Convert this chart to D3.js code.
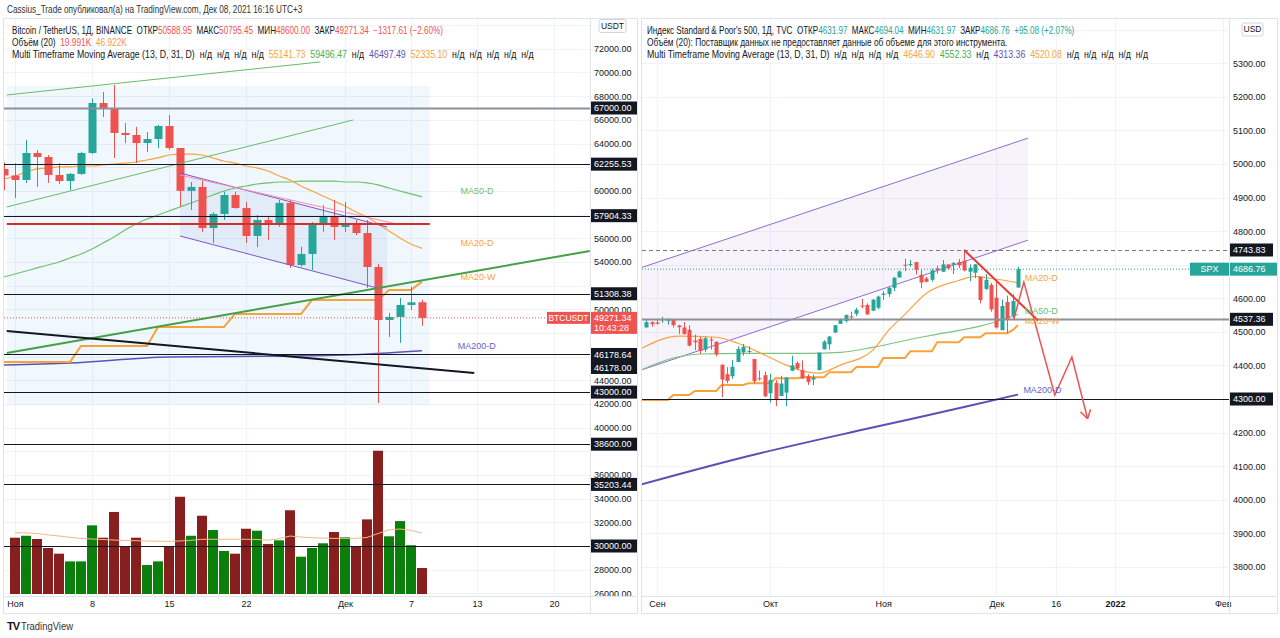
<!DOCTYPE html>
<html><head><meta charset="utf-8">
<script src="https://cdn.jsdelivr.net/npm/d3@7/dist/d3.min.js"></script>
<style>
html,body{margin:0;padding:0;background:#fff;}
svg{display:block;}
text{font-family:"Liberation Sans",Arial,sans-serif;}
</style></head>
<body><svg id="chart" width="1280" height="638"></svg>
<script>
// ================= DATA =================
// ---- BTC / USDT (daily) ----
const btcDates = ["2021-10-31","2021-11-01","2021-11-02","2021-11-03","2021-11-04","2021-11-05","2021-11-06","2021-11-07","2021-11-08","2021-11-09","2021-11-10","2021-11-11","2021-11-12","2021-11-13","2021-11-14","2021-11-15","2021-11-16","2021-11-17","2021-11-18","2021-11-19","2021-11-20","2021-11-21","2021-11-22","2021-11-23","2021-11-24","2021-11-25","2021-11-26","2021-11-27","2021-11-28","2021-11-29","2021-11-30","2021-12-01","2021-12-02","2021-12-03","2021-12-04","2021-12-05","2021-12-06","2021-12-07","2021-12-08"];
const btcOpen  = [61850,61300,60920,63200,62860,61340,60830,61430,63200,67420,66920,64890,64720,64040,64380,65480,63620,60000,60330,56860,58050,59650,58550,56190,57540,57120,58980,53740,54670,57200,57790,56950,57180,56440,53570,49090,49350,50360,50588.95];
const btcHigh  = [62400,62350,64300,63450,63030,62350,61500,63300,67800,68350,68950,65730,65400,64970,65550,66400,63620,60750,60900,58200,59930,59930,59060,57960,57820,59230,59230,55280,57370,58800,59230,59060,57540,57540,53820,49700,50950,51900,50795.45];
const btcLow   = [60050,59400,60660,60330,60670,60600,60070,61350,63100,66240,62780,64040,62350,63280,63600,63450,58640,58380,56530,55600,57540,58500,55600,55250,55850,56970,53490,53600,53320,56550,55850,56530,56270,51800,42080,47650,47150,49940,48600.00];
const btcClose = [61300,60920,63200,62860,61340,60830,61430,63200,67420,66920,64890,64720,64040,64380,65480,63620,60000,60330,56860,58050,59650,58550,56190,57540,57120,58980,53740,54670,57200,57790,56950,57180,56440,53570,49090,49350,50360,50588,49271.34];
const btcVol   = [null,43.3,44.8,42.3,35.4,31.0,25.1,25.1,52.8,43.3,63.1,36.7,43.3,22.3,25.1,36.7,74.8,44.8,60.2,49.2,33.1,31.0,50.2,48.7,38.5,41.3,64.4,28.7,35.4,39.0,47.7,43.6,36.7,57.4,110.2,44.4,56.1,37.5,19.991];
const btcVolMA = [null,47.1,47.0,46.5,45.5,44.6,43.6,42.8,42.3,41.9,41.5,41.2,41.0,40.8,40.6,40.5,40.8,41.3,42.1,42.1,42.1,42.1,42.1,41.9,41.5,42.5,44.6,43.8,43.3,43.0,42.8,42.8,42.8,43.5,46.5,49.3,50.0,49.0,46.922];
const btcMA20D = [61000,61260,61590,61850,61930,62020,62020,62100,62100,62190,62270,62350,62440,62610,62780,63030,63110,63110,63030,62780,62520,62350,62100,61930,61680,61260,60920,60410,59990,59570,59140,58720,58220,57790,57200,56610,56020,55510,55141.73];
const btcMA50D = [52720,52980,53230,53490,53740,53990,54330,54670,55090,55600,56100,56700,57200,57620,57960,58300,58640,58980,59310,59650,59990,60240,60410,60580,60670,60750,60750,60830,60830,60830,60830,60750,60750,60670,60500,60240,59990,59740,59496.47];
const btcMA20W = [45550,45550,45550,45550,45550,45550,45550,46900,46900,46900,46900,46900,46900,46900,48500,48500,48500,48500,48500,48500,48500,49600,49600,49600,49600,49600,49600,49600,50780,50780,50780,50780,50780,50780,50780,51630,51630,51630,52335.10];
const btcMA200Dates = ["2021-10-31","2021-11-06","2021-11-15","2021-11-26","2021-12-01","2021-12-08"];
const btcMA200Vals  = [45290,45460,45970,46050,46140,46497.49];
const btcLevels = [67000,62255.53,57904.33,51308.38,46178.64,46178.00,43000,38600,35203.44,30000];
const btcPriceTicks = [26000,28000,30000,32000,34000,36000,38000,40000,42000,44000,46000,48000,50000,52000,54000,56000,58000,60000,62000,64000,66000,68000,70000,72000,74000];
const btcTimeTicks = ["2021-11-01","2021-11-08","2021-11-15","2021-11-22","2021-12-01","2021-12-07","2021-12-13","2021-12-20"];
const btcTimeLabels = ["Ноя","8","15","22","Дек","7","13","20"];
const btcLast = 49271.34;
// BTC drawings (time, price)
const btcGreenTop   = [["2021-10-31T06:00",68100],["2021-11-28T18:00",70890]];
const btcGreenMid   = [["2021-10-31T06:00",58640],["2021-12-01T18:00",65990]];
const btcGreenThick = [["2021-10-31T06:00",46300],["2021-12-23T06:00",54920]];
const btcBlackLine  = [["2021-10-31T06:00",48160],["2021-12-12T18:00",44620]];
const btcChanTop    = [["2021-11-16T00:00",61510],["2021-12-04T20:00",56950]];
const btcChanBot    = [["2021-11-16T00:00",56190],["2021-12-03T22:00",51795]];
const btcChanBotEnd = [["2021-12-04T20:00",51545]];
const btcPinkLine   = [["2021-11-16T00:00",61340],["2021-12-05T17:00",57201]];
const btcRedLevel   = [["2021-10-31T06:00",57200],["2021-12-08T17:00",57200]];
const btcBlueBox    = [["2021-10-31T06:00",68860],["2021-12-08T17:00",41910]];
const btcLabelNames = ["MA50-D","MA20-D","MA20-W","MA200-D"];
const btcLabelTimes = ["2021-12-11T12:00","2021-12-11T12:00","2021-12-11T12:00","2021-12-11T06:00"];
const btcLabelVals  = [59990,55600,52720,46900];

// ---- S&P 500 (daily, trading days) ----
const spxDates = ["2021-08-30","2021-08-31","2021-09-01","2021-09-02","2021-09-03","2021-09-07","2021-09-08","2021-09-09","2021-09-10","2021-09-13","2021-09-14","2021-09-15","2021-09-16","2021-09-17","2021-09-20","2021-09-21","2021-09-22","2021-09-23","2021-09-24","2021-09-27","2021-09-28","2021-09-29","2021-09-30","2021-10-01","2021-10-04","2021-10-05","2021-10-06","2021-10-07","2021-10-08","2021-10-11","2021-10-12","2021-10-13","2021-10-14","2021-10-15","2021-10-18","2021-10-19","2021-10-20","2021-10-21","2021-10-22","2021-10-25","2021-10-26","2021-10-27","2021-10-28","2021-10-29","2021-11-01","2021-11-02","2021-11-03","2021-11-04","2021-11-05","2021-11-08","2021-11-09","2021-11-10","2021-11-11","2021-11-12","2021-11-15","2021-11-16","2021-11-17","2021-11-18","2021-11-19","2021-11-22","2021-11-23","2021-11-24","2021-11-26","2021-11-29","2021-11-30","2021-12-01","2021-12-02","2021-12-03","2021-12-06","2021-12-07"];
const spxOpen  = [4513,4529,4528,4534,4532,4536,4519,4513,4506,4474,4479,4447,4477,4470,4402,4374,4368,4410,4439,4442,4419,4362,4371,4317,4348,4309,4319,4384,4407,4386,4368,4358,4386,4448,4463,4498,4524,4532,4546,4554,4578,4580,4563,4572,4610,4613,4631,4662,4700,4702,4708,4670,4659,4655,4689,4679,4701,4700,4708,4712,4679,4676,4664,4628,4640,4602,4505,4589,4548,4631.97];
const spxHigh  = [4537,4531,4537,4545,4541,4536,4521,4529,4520,4492,4485,4486,4485,4472,4403,4395,4416,4457,4464,4457,4419,4385,4382,4375,4356,4369,4365,4429,4412,4415,4374,4372,4439,4475,4488,4520,4540,4552,4560,4572,4598,4585,4598,4608,4621,4636,4664,4683,4718,4714,4708,4685,4664,4688,4697,4714,4701,4708,4717,4744,4701,4702,4664,4672,4646,4652,4596,4608,4612,4694.04];
const spxLow   = [4513,4515,4522,4527,4521,4513,4493,4493,4457,4446,4435,4439,4447,4427,4306,4347,4360,4410,4429,4437,4346,4355,4306,4289,4279,4309,4278,4384,4386,4360,4342,4341,4386,4448,4447,4496,4524,4528,4538,4547,4570,4551,4562,4567,4595,4604,4621,4662,4681,4694,4671,4630,4648,4650,4673,4679,4685,4672,4690,4680,4651,4660,4585,4625,4560,4510,4505,4496,4540,4631.97];
const spxClose = [4529,4523,4524,4537,4535,4520,4514,4493,4459,4469,4443,4481,4474,4433,4358,4354,4396,4449,4455,4443,4353,4359,4308,4357,4300,4346,4364,4400,4391,4361,4351,4364,4438,4471,4486,4520,4536,4550,4545,4566,4575,4552,4596,4605,4614,4631,4661,4680,4698,4702,4685,4647,4649,4683,4683,4701,4689,4705,4698,4683,4691,4701,4595,4655,4567,4513,4577,4538,4592,4686.76];
const spxHolidays = ["2021-09-06","2021-11-25","2021-12-24","2022-01-17"];
const spxMA20DDates = ["2021-08-27","2021-09-08","2021-09-17","2021-09-23","2021-09-30","2021-10-06","2021-10-12","2021-10-14","2021-10-20","2021-10-28","2021-11-02","2021-11-05","2021-11-11","2021-11-19","2021-11-24","2021-11-30","2021-12-07"];
const spxMA20DVals  = [4450,4487,4484,4466,4431,4401,4380,4377,4401,4445,4505,4552,4615,4653,4665,4659,4646.90];
const spxMA50DDates = ["2021-08-27","2021-09-07","2021-09-14","2021-09-24","2021-10-12","2021-10-20","2021-10-28","2021-11-10","2021-11-16","2021-11-26","2021-12-01","2021-12-07"];
const spxMA50DVals  = [4386,4422,4434,4436,4436,4439,4454,4484,4496,4517,4531,4552.33];
const spxMA200DDates = ["2021-08-27","2021-09-27","2021-10-28","2021-11-22","2021-12-07"];
const spxMA200DVals  = [4045,4130,4215,4276,4313.36];
const spxMA20WDates = ["2021-08-23","2021-08-30","2021-09-07","2021-09-13","2021-09-20","2021-09-27","2021-10-04","2021-10-11","2021-10-18","2021-10-25","2021-11-01","2021-11-08","2021-11-15","2021-11-22","2021-11-29","2021-12-06","2021-12-07"];
const spxMA20WVals  = [4297,4297,4312,4324,4342,4347,4362,4365,4380,4395,4422,4442,4469,4484,4496,4505,4520.08];
const spxLevels = [4743.83,4537.36,4300.00];
const spxPriceTicks = [3800,3900,4000,4100,4200,4300,4400,4500,4600,4700,4800,4900,5000,5100,5200,5300,5400];
const spxTimeTicks = ["2021-09-01","2021-10-01","2021-11-01","2021-12-01","2021-12-16","2022-01-03","2022-02-01"];
const spxTimeLabels = ["Сен","Окт","Ноя","Дек","16","2022","Фев"];
const spxLast = 4686.76;
const spxChanUpper = [["2021-08-27T05:00",4692],["2021-12-08T20:00",5077]];
const spxChanLower = [["2021-08-27T05:00",4387],["2021-12-08T20:00",4773]];
const spxTrend     = [["2021-11-22T00:00",4744],["2021-12-10T17:00",4534]];
const spxForecast  = [["2021-12-06T05:00",4537],["2021-12-08T02:00",4648],["2021-12-15T20:00",4312],["2021-12-21T00:00",4425],["2021-12-23T22:00",4241]];
const spxLabelNames = ["MA20-D","MA50-D","MA20-W","MA200-D"];
const spxLabelTimes = ["2021-12-08T06:00","2021-12-08T06:00","2021-12-08T06:00","2021-12-08T00:00"];
const spxLabelVals  = [4662,4564,4534,4327];

// ================= DRAWING =================
const svg = d3.select("#chart");
svg.append("rect").attr("width",1280).attr("height",638).attr("fill","#fff");
const INK="#131722", RED="#ef5350", TEAL="#26a69a", ORANGE="#f7a440", GREEN="#6cc070", PURPLE="#5e52b8", GRID="#f0f3fa";

const pU = s => { const d=s.slice(0,10); let ms=Date.parse(d+"T00:00:00Z"); if(s.length>10){const [h,m]=s.slice(11).split(":").map(Number); ms+=(h*60+m)*60000;} return new Date(ms); };

const defs = svg.append("defs");
defs.append("clipPath").attr("id","clipL").append("rect").attr("x",4).attr("y",19).attr("width",586).attr("height",577);
defs.append("clipPath").attr("id","clipR").append("rect").attr("x",642).attr("y",19).attr("width",587).attr("height",577);

// ---------- LEFT: BTC ----------
const xB = d3.scaleUtc().domain([pU("2021-11-01"),pU("2021-12-20")]).range([15,554]);
const yB = d3.scaleLinear().domain([30000,67000]).range([546,108]);
const yVol = d3.scaleLinear().domain([0,100]).range([594,464]);
const bx = s => xB(pU(s));
const gL = svg.append("g").attr("clip-path","url(#clipL)");

gL.selectAll(".hg").data(btcPriceTicks).join("line").attr("x1",4).attr("x2",590)
  .attr("y1",d=>Math.round(yB(d))+0.5).attr("y2",d=>Math.round(yB(d))+0.5).attr("stroke",GRID);
gL.selectAll(".vg").data(btcTimeTicks).join("line").attr("y1",19).attr("y2",596)
  .attr("x1",d=>Math.round(bx(d))+0.5).attr("x2",d=>Math.round(bx(d))+0.5).attr("stroke",GRID);

const btcIdx = btcDates.map((d,i)=>i);
gL.selectAll(".vol").data(btcIdx.filter(i=>btcVol[i]!=null)).join("rect")
  .attr("x",i=>bx(btcDates[i])-5).attr("width",10)
  .attr("y",i=>yVol(btcVol[i])).attr("height",i=>yVol(0)-yVol(btcVol[i]))
  .attr("fill",i=>btcClose[i]>=btcOpen[i]?"#0b7f0b":"#881f1f");
gL.append("path").datum(btcIdx).attr("fill","none").attr("stroke","#f5b68a").attr("stroke-width",1)
  .attr("d",d3.line().defined(i=>btcVolMA[i]!=null).x(i=>bx(btcDates[i])).y(i=>yVol(btcVolMA[i])));

gL.append("rect").attr("x",bx(btcBlueBox[0][0])).attr("y",yB(btcBlueBox[0][1]))
  .attr("width",bx(btcBlueBox[1][0])-bx(btcBlueBox[0][0])).attr("height",yB(btcBlueBox[1][1])-yB(btcBlueBox[0][1]))
  .attr("fill","#2196f3").attr("opacity",0.065);
const chanPoly = [btcChanTop[0],btcChanTop[1],btcChanBotEnd[0],btcChanBot[0]];
gL.append("polygon").attr("points",chanPoly.map(p=>bx(p[0])+","+yB(p[1])).join(" ")).attr("fill","#5c6bc0").attr("opacity",0.09);

const lineB = () => d3.line().x((d,i)=>bx(btcDates[i])).y(d=>yB(d));
gL.append("path").datum(btcMA200Vals).attr("fill","none").attr("stroke",PURPLE).attr("stroke-width",1.5)
  .attr("d",d3.line().x((d,i)=>bx(btcMA200Dates[i])).y(d=>yB(d)).curve(d3.curveMonotoneX));
gL.append("path").datum(btcMA50D).attr("fill","none").attr("stroke",GREEN).attr("stroke-width",1.2).attr("d",lineB().curve(d3.curveMonotoneX));
gL.append("path").datum(btcMA20D).attr("fill","none").attr("stroke",ORANGE).attr("stroke-width",1.2).attr("d",lineB().curve(d3.curveMonotoneX));
gL.append("path").datum(btcMA20W).attr("fill","none").attr("stroke","#f6a33a").attr("stroke-width",2).attr("d",lineB());

function drawCandles(g, dates, O, H, L, C, xf, yf, bw){
  const idx = dates.map((d,i)=>i);
  g.selectAll(null).data(idx).join("line")
    .attr("x1",i=>Math.round(xf(dates[i]))+0.5).attr("x2",i=>Math.round(xf(dates[i]))+0.5)
    .attr("y1",i=>yf(H[i])).attr("y2",i=>yf(L[i]))
    .attr("stroke",i=>C[i]>=O[i]?TEAL:RED).attr("stroke-width",1);
  g.selectAll(null).data(idx).join("rect")
    .attr("x",i=>Math.round(xf(dates[i]))+0.5-bw/2).attr("width",bw)
    .attr("y",i=>yf(Math.max(O[i],C[i])))
    .attr("height",i=>Math.max(1,yf(Math.min(O[i],C[i]))-yf(Math.max(O[i],C[i]))))
    .attr("fill",i=>C[i]>=O[i]?TEAL:RED);
}
drawCandles(gL, btcDates, btcOpen, btcHigh, btcLow, btcClose, bx, yB, 8);

function seg(g, pts, xf, yf, color, w, dash){
  const p = g.append("path").datum(pts).attr("fill","none").attr("stroke",color).attr("stroke-width",w)
    .attr("d",d3.line().x(d=>xf(d[0])).y(d=>yf(d[1])));
  if(dash) p.attr("stroke-dasharray",dash);
  return p;
}
seg(gL, btcGreenTop, bx, yB, "#66bb6a", 1);
seg(gL, btcGreenMid, bx, yB, "#66bb6a", 1);
seg(gL, btcGreenThick, bx, yB, "#43a047", 2);
seg(gL, btcBlackLine, bx, yB, INK, 2);
seg(gL, btcChanTop, bx, yB, "#7e57c2", 1);
seg(gL, btcChanBot, bx, yB, "#7e57c2", 1);
seg(gL, btcPinkLine, bx, yB, "#f48fb1", 1);
seg(gL, btcRedLevel, bx, yB, "#d32f2f", 2);

btcLevels.forEach(v=>{
  const y = Math.round(yB(v))+0.5;
  gL.append("line").attr("x1",4).attr("x2",590).attr("y1",y).attr("y2",y)
    .attr("stroke",v===67000?"#8d9099":INK).attr("stroke-width",v===67000?2:1);
});
gL.append("line").attr("x1",4).attr("x2",590).attr("y1",yB(btcLast)).attr("y2",yB(btcLast))
  .attr("stroke",RED).attr("stroke-width",1).attr("stroke-dasharray","1,2");

const lblColor = {"MA50-D":GREEN,"MA20-D":ORANGE,"MA20-W":ORANGE,"MA200-D":"#6a5fc1"};
btcLabelNames.forEach((n,i)=>{
  gL.append("text").attr("x",bx(btcLabelTimes[i])).attr("y",yB(btcLabelVals[i])).attr("dy","0.35em")
    .attr("font-size",9).attr("fill",lblColor[n]).text(n);
});

// ---------- RIGHT: SPX ----------
const cal=[];
for(let t=Date.parse("2021-08-02T00:00:00Z"); t<=Date.parse("2022-02-28T00:00:00Z"); t+=86400000){
  const d=new Date(t), wd=d.getUTCDay(), s=d.toISOString().slice(0,10);
  if(wd>0 && wd<6 && !spxHolidays.includes(s)) cal.push(s);
}
const calIdx = new Map(cal.map((s,i)=>[s,i]));
const base = calIdx.get("2021-09-01");
const tpos = s => { let f=0; if(s.length>10){const [h,m]=s.slice(11).split(":").map(Number); f=(h+m/60)/24;} return calIdx.get(s.slice(0,10))-base+f; };
const xS = d3.scaleLinear().domain([tpos("2021-09-01"),tpos("2021-12-07")]).range([657,1018]);
const sx = s => xS(tpos(s));
const yS = d3.scaleLinear().domain([4300,4743.83]).range([399,250]);
const gR = svg.append("g").attr("clip-path","url(#clipR)");

gR.selectAll(".hg").data(spxPriceTicks).join("line").attr("x1",642).attr("x2",1229)
  .attr("y1",d=>Math.round(yS(d))+0.5).attr("y2",d=>Math.round(yS(d))+0.5).attr("stroke",GRID);
gR.selectAll(".vg").data(spxTimeTicks).join("line").attr("y1",19).attr("y2",596)
  .attr("x1",d=>Math.round(sx(d))+0.5).attr("x2",d=>Math.round(sx(d))+0.5).attr("stroke",GRID);

const chan = [spxChanUpper[0],spxChanUpper[1],spxChanLower[1],spxChanLower[0]];
gR.append("polygon").attr("points",chan.map(p=>sx(p[0])+","+yS(p[1])).join(" ")).attr("fill","#7e57c2").attr("opacity",0.07);
seg(gR, spxChanUpper, sx, yS, "#8e6cd0", 1);
seg(gR, spxChanLower, sx, yS, "#8e6cd0", 1);

gR.append("path").datum(spxMA200DVals).attr("fill","none").attr("stroke","#5b4fb5").attr("stroke-width",2)
  .attr("d",d3.line().x((d,i)=>sx(spxMA200DDates[i])).y(d=>yS(d)).curve(d3.curveMonotoneX));
gR.append("path").datum(spxMA50DVals).attr("fill","none").attr("stroke","#7cc47f").attr("stroke-width",1.2)
  .attr("d",d3.line().x((d,i)=>sx(spxMA50DDates[i])).y(d=>yS(d)).curve(d3.curveMonotoneX));
gR.append("path").datum(spxMA20DVals).attr("fill","none").attr("stroke",ORANGE).attr("stroke-width",1.2)
  .attr("d",d3.line().x((d,i)=>sx(spxMA20DDates[i])).y(d=>yS(d)).curve(d3.curveMonotoneX));
const wkDays = cal.filter(s=>s>="2021-08-27" && s<="2021-12-07");
const wkVal = s => { let v=null; spxMA20WDates.forEach((d,i)=>{ if(d<=s) v=spxMA20WVals[i]; }); return v; };
gR.append("path").datum(wkDays).attr("fill","none").attr("stroke","#f6a33a").attr("stroke-width",2)
  .attr("d",d3.line().x(s=>sx(s)).y(s=>yS(wkVal(s))));

drawCandles(gR, spxDates, spxOpen, spxHigh, spxLow, spxClose, sx, yS, 4);

spxLevels.forEach((v,i)=>{
  const y = Math.round(yS(v))+0.5;
  const l = gR.append("line").attr("x1",642).attr("x2",1229).attr("y1",y).attr("y2",y);
  if(i===0) l.attr("stroke","#787b86").attr("stroke-width",1).attr("stroke-dasharray","4,3");
  else if(i===1) l.attr("stroke","#8d9099").attr("stroke-width",2);
  else l.attr("stroke",INK).attr("stroke-width",1);
});
gR.append("line").attr("x1",642).attr("x2",1229).attr("y1",yS(spxLast)).attr("y2",yS(spxLast))
  .attr("stroke",TEAL).attr("stroke-width",1).attr("stroke-dasharray","1,2");

seg(gR, spxTrend, sx, yS, "#e53935", 2);
seg(gR, spxForecast, sx, yS, "#ef5350", 1.5);
{
  const n=spxForecast.length, a=spxForecast[n-2], b=spxForecast[n-1];
  const x1=sx(a[0]), y1=yS(a[1]), x2=sx(b[0]), y2=yS(b[1]);
  const ang=Math.atan2(y2-y1,x2-x1), L=10;
  [Math.PI-0.55, Math.PI+0.55].forEach(o=>{
    gR.append("line").attr("x1",x2).attr("y1",y2).attr("x2",x2+L*Math.cos(ang+o)).attr("y2",y2+L*Math.sin(ang+o))
      .attr("stroke","#ef5350").attr("stroke-width",1.5);
  });
}
const lblColorR = {"MA50-D":"#6cc070","MA20-D":ORANGE,"MA20-W":ORANGE,"MA200-D":"#6a5fc1"};
spxLabelNames.forEach((n,i)=>{
  gR.append("text").attr("x",sx(spxLabelTimes[i])).attr("y",yS(spxLabelVals[i])).attr("dy","0.35em")
    .attr("font-size",9).attr("fill",lblColorR[n]).text(n);
});

// ---------- BOX LAYOUT (computed first so covered tick labels can be skipped) ----------
function layoutBoxes(levels, yf){
  let last=-1e9; const out=[];
  levels.slice().sort((a,b)=>b-a).forEach(v=>{
    let y=yf(v); if(y-6.5<last) y=last+6.5; last=y+6.5; out.push({v,y});
  });
  return out;
}
const btcBoxes = layoutBoxes(btcLevels, yB);
const spxBoxes = layoutBoxes(spxLevels, yS);
const btcCovers = btcBoxes.map(b=>[b.y-6.5,b.y+6.5]).concat([[yB(btcLast)-6,yB(btcLast)+16],[19,34]]);
const spxCovers = spxBoxes.map(b=>[b.y-6.5,b.y+6.5]).concat([[yS(spxLast)-6.5,yS(spxLast)+6.5],[19,37]]);
const visibleTick = (y,covers) => covers.every(c=> Math.min(y+4.5,c[1]) - Math.max(y-4.5,c[0]) < 2.5);

// ---------- AXES ----------
function priceAxis(scale, ticks, x0, covers){
  const g = svg.append("g").attr("transform",`translate(${x0},0)`)
    .call(d3.axisRight(scale).tickValues(ticks.filter(t=>scale(t)>20 && scale(t)<597 && visibleTick(scale(t),covers))).tickFormat(d3.format(".2f")).tickSize(0).tickPadding(4));
  g.select(".domain").remove();
  g.attr("font-family",null).attr("font-size",null);
  g.selectAll("text").attr("font-size",9).attr("fill",INK);
}
priceAxis(yB, btcPriceTicks, 590, btcCovers);
priceAxis(yS, spxPriceTicks, 1229, spxCovers);

{
  const g = svg.append("g").attr("transform","translate(0,597)")
    .call(d3.axisBottom(xB).tickValues(btcTimeTicks.map(pU)).tickFormat((d,i)=>btcTimeLabels[i]).tickSize(0).tickPadding(4));
  g.select(".domain").remove();
  g.attr("font-family",null).attr("font-size",null);
  g.selectAll("text").attr("font-size",9).attr("fill",INK);
}
{
  const g = svg.append("g").attr("transform","translate(0,597)")
    .call(d3.axisBottom(d3.scaleLinear().domain(xS.domain()).range(xS.range())).tickValues(spxTimeTicks.map(tpos)).tickFormat((d,i)=>spxTimeLabels[i]).tickSize(0).tickPadding(4));
  g.select(".domain").remove();
  g.attr("font-family",null).attr("font-size",null);
  g.selectAll("text").attr("font-size",9).attr("fill",INK).attr("font-weight",(d,i)=>spxTimeLabels[i]==="2022"?"bold":null);
}

// ---------- FRAMES ----------
const fr = svg.append("g").attr("fill","none").attr("stroke","#e0e3eb");
fr.append("rect").attr("x",3.5).attr("y",18.5).attr("width",634).attr("height",595);
fr.append("rect").attr("x",641.5).attr("y",18.5).attr("width",636).attr("height",595);
fr.append("line").attr("x1",590.5).attr("x2",590.5).attr("y1",18).attr("y2",614);
fr.append("line").attr("x1",3).attr("x2",638).attr("y1",596.5).attr("y2",596.5);
fr.append("line").attr("x1",1229.5).attr("x2",1229.5).attr("y1",18).attr("y2",614);
fr.append("line").attr("x1",641).attr("x2",1278).attr("y1",596.5).attr("y2",596.5);

// ---------- PRICE BOXES ----------
function drawBoxes(boxes, x0, w){
  boxes.forEach(b=>{
    svg.append("rect").attr("x",x0).attr("y",b.y-6.5).attr("width",w).attr("height",13).attr("fill",INK);
    svg.append("text").attr("x",x0+3).attr("y",b.y).attr("dy","0.35em").attr("font-size",9).attr("fill","#fff").text(d3.format(".2f")(b.v));
  });
}
drawBoxes(btcBoxes, 591, 46);
drawBoxes(spxBoxes, 1230, 43);

{
  const y=yB(btcLast);
  svg.append("rect").attr("x",547).attr("y",y-6).attr("width",43).attr("height",12).attr("fill",RED);
  svg.append("text").attr("x",568.5).attr("y",y).attr("dy","0.35em").attr("text-anchor","middle").attr("font-size",8.5).attr("fill","#fff").text("BTCUSDT");
  svg.append("rect").attr("x",591).attr("y",y-6).attr("width",46).attr("height",22).attr("fill",RED);
  svg.append("text").attr("x",594).attr("y",y).attr("dy","0.35em").attr("font-size",9).attr("fill","#fff").text(d3.format(".2f")(btcLast));
  svg.append("text").attr("x",594).attr("y",y+10).attr("dy","0.35em").attr("font-size",9).attr("fill","#fff").text("10:43:28");
}
{
  const y=yS(spxLast);
  svg.append("rect").attr("x",1190).attr("y",y-6.5).attr("width",39).attr("height",13).attr("fill",TEAL);
  svg.append("text").attr("x",1209.5).attr("y",y).attr("dy","0.35em").attr("text-anchor","middle").attr("font-size",9).attr("fill","#fff").text("SPX");
  svg.append("rect").attr("x",1230).attr("y",y-6.5).attr("width",47).attr("height",13).attr("fill",TEAL);
  svg.append("text").attr("x",1233).attr("y",y).attr("dy","0.35em").attr("font-size",9).attr("fill","#fff").text(d3.format(".2f")(spxLast));
}
function curBtn(x,y,w,label){
  svg.append("rect").attr("x",x).attr("y",y).attr("width",w).attr("height",13).attr("rx",2).attr("fill","#fff").attr("stroke","#d1d4dc");
  svg.append("text").attr("x",x+w/2).attr("y",y+6.5).attr("dy","0.35em").attr("text-anchor","middle").attr("font-size",8.5).attr("fill",INK).text(label);
}
curBtn(599,19.5,27,"USDT");
curBtn(1242,23,21,"USD");

// ---------- HEADERS ----------
function header(x, y, target, parts, size){
  const t = svg.append("text").attr("x",0).attr("y",0).attr("font-size",size||10).style("white-space","pre");
  parts.forEach(p=> t.append("tspan").attr("fill",p[1]).text(p[0]));
  const w = t.node().getComputedTextLength();
  t.attr("transform",`translate(${x},${y}) scale(${target/w},1)`);
}
const G="#131722";
header(7,13,296,[["Cassius_Trade опубликовал(а) на TradingView.com, Дек 08, 2021 16:16 UTC+3","#333"]],10);
header(12,34,431,[["Bitcoin / TetherUS, 1Д, BINANCE  ОТКР",G],["50588.95",RED],["  МАКС",G],["50795.45",RED],["  МИН",G],["48600.00",RED],["  ЗАКР",G],["49271.34",RED],["  −1317.61 (−2.60%)",RED]],10);
header(12,46,115,[["Объём (20)  ",G],["19.991K",RED],["  46.922K","#f59a52"]],10);
header(12,58,522,[["Multi Timeframe Moving Average (13, D, 31, D)  н/д  н/д  н/д  н/д  ",G],["55141.73",ORANGE],["  ",G],["59496.47","#4caf50"],["  н/д  ",G],["46497.49",PURPLE],["  ",G],["52335.10",ORANGE],["  н/д  н/д  н/д  н/д  н/д",G]],10);
header(647,34,428,[["Индекс Standard & Poor's 500, 1Д, TVC  ОТКР",G],["4631.97",TEAL],["  МАКС",G],["4694.04",TEAL],["  МИН",G],["4631.97",TEAL],["  ЗАКР",G],["4686.76",TEAL],["  +95.08 (+2.07%)",TEAL]],10);
header(647,46,361,[["Объём (20): Поставщик данных не предоставляет данные об объеме для этого инструмента.",G]],10);
header(647,58,502,[["Multi Timeframe Moving Average (13, D, 31, D)  н/д  н/д  н/д  н/д  ",G],["4646.90",ORANGE],["  ",G],["4552.33","#4caf50"],["  н/д  ",G],["4313.36",PURPLE],["  ",G],["4520.08",ORANGE],["  н/д  н/д  н/д  н/д  н/д",G]],10);

svg.append("text").attr("x",7).attr("y",630).attr("font-size",11).attr("font-weight",900).attr("fill",INK).attr("letter-spacing",-1).text("TV");
header(21,630,52,[["TradingView","#333"]],10);
</script></body></html>
